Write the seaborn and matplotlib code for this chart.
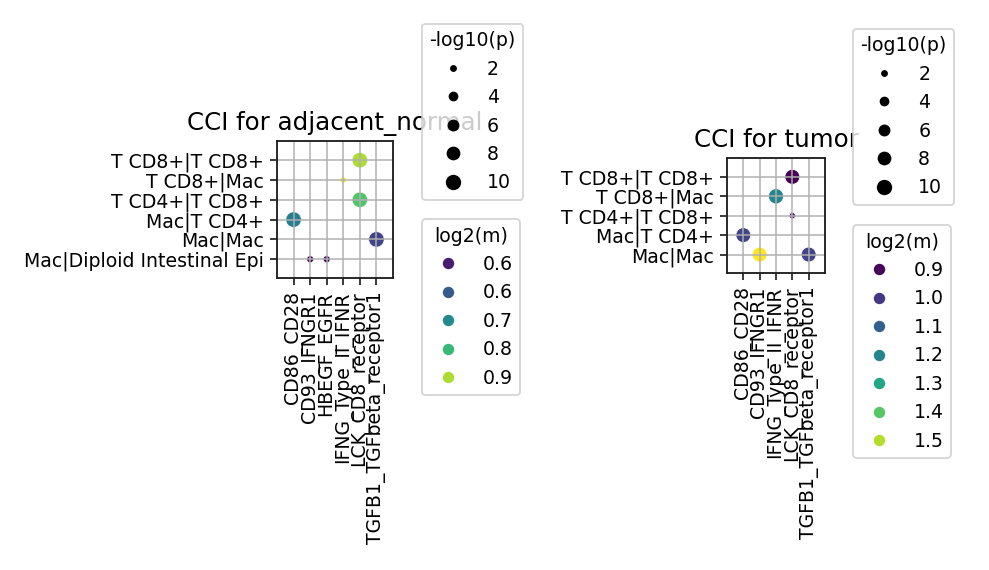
import numpy as np
import pandas as pd
import seaborn as sns
import matplotlib.pyplot as plt
from matplotlib.lines import Line2D

# --- dados: adjacent_normal ---
normal_pairs = ["T CD8+|T CD8+", "T CD8+|Mac", "T CD4+|T CD8+", "Mac|T CD4+",
                "Mac|Mac", "Mac|Diploid Intestinal Epi", "Mac|Diploid Intestinal Epi"]
normal_lr = ["LCK_CD8_receptor", "IFNG_Type_II_IFNR", "LCK_CD8_receptor", "CD86_CD28",
             "TGFB1_TGFbeta_receptor1", "CD93_IFNGR1", "HBEGF_EGFR"]
normal_log2m = [0.88, 0.93, 0.82, 0.70, 0.61, 0.54, 0.54]
normal_logp = [10, 1.6, 10, 10, 10, 2, 2]
normal_hue_range = (0.53, 0.93)
normal_hue_ticks = [0.56, 0.64, 0.72, 0.80, 0.88]
normal_hue_labels = ["0.6", "0.6", "0.7", "0.8", "0.9"]

# --- dados: tumor ---
tumor_pairs = ["T CD8+|T CD8+", "T CD8+|Mac", "T CD4+|T CD8+", "Mac|T CD4+",
               "Mac|Mac", "Mac|Mac"]
tumor_lr = ["LCK_CD8_receptor", "IFNG_Type_II_IFNR", "LCK_CD8_receptor", "CD86_CD28",
            "CD93_IFNGR1", "TGFB1_TGFbeta_receptor1"]
tumor_log2m = [0.89, 1.21, 0.94, 1.03, 1.58, 1.03]
tumor_logp = [9.6, 10, 1.8, 9.6, 9.6, 9.6]
tumor_hue_range = (0.89, 1.58)
tumor_hue_ticks = [0.9, 1.0, 1.1, 1.2, 1.3, 1.4, 1.5]
tumor_hue_labels = ["0.9", "1.0", "1.1", "1.2", "1.3", "1.4", "1.5"]

size_ticks = [2, 4, 6, 8, 10]
size_labels = ["2", "4", "6", "8", "10"]

W, H, DPI = 989, 570, 136
fig = plt.figure(figsize=(W / DPI, H / DPI), dpi=DPI)

SIZE_MAX = 66  # area (pt^2) for -log10(p) = 10


def painel(rect, pairs, lr, log2m, logp, hue_range, hue_ticks, hue_labels,
           title, leg_x, leg_y_top, leg_y_bottom):
    ax = fig.add_axes([rect[0] / W, 1 - rect[3] / H,
                       (rect[2] - rect[0]) / W, (rect[3] - rect[1]) / H])
    df = pd.DataFrame({"pair": pairs, "lr": lr, "log2m": log2m, "logp": logp})
    df["pair"] = pd.Categorical(df["pair"], categories=sorted(set(pairs)))
    df["lr"] = pd.Categorical(df["lr"], categories=sorted(set(lr)))
    sns.scatterplot(data=df, x="lr", y="pair", hue="log2m", size="logp",
                    palette="viridis", hue_norm=hue_range,
                    sizes=(0, SIZE_MAX), size_norm=(0, 10),
                    edgecolor="white", legend=False, ax=ax)
    nx = len(set(lr))
    ny = len(set(pairs))
    ax.set_xlim(-1.0, nx)
    ax.set_ylim(-0.95, ny - 1 + 0.97)
    ax.grid(True, color="#b0b0b0", linewidth=0.8)
    ax.tick_params(axis="x", labelrotation=90)
    for sp in ax.spines.values():
        sp.set_linewidth(1.0)
        sp.set_color("#222222")
    ax.set_xlabel("")
    ax.set_ylabel("")
    ax.set_title(title, fontsize=13)

    # legendas
    cmap = plt.get_cmap("viridis")
    norm = plt.Normalize(*hue_range)
    size_handles = [Line2D([], [], marker="o", ls="", color="black",
                           markeredgewidth=0,
                           markersize=np.sqrt(SIZE_MAX * v / 10), label=l)
                    for v, l in zip(size_ticks, size_labels)]
    hue_handles = [Line2D([], [], marker="o", ls="", color=cmap(norm(v)),
                          markeredgewidth=0, markersize=np.sqrt(SIZE_MAX * 0.55),
                          label=l)
                   for v, l in zip(hue_ticks, hue_labels)]
    leg1 = ax.legend(handles=size_handles, title="-log10(p)", loc="lower left",
                     bbox_to_anchor=(leg_x / W, 1 - leg_y_bottom / H),
                     bbox_transform=fig.transFigure, borderaxespad=0)
    ax.add_artist(leg1)
    ax.legend(handles=hue_handles, title="log2(m)", loc="upper left",
              bbox_to_anchor=(leg_x / W, 1 - leg_y_top / H),
              bbox_transform=fig.transFigure, borderaxespad=0)
    return ax


painel((277, 141, 393, 278), normal_pairs, normal_lr, normal_log2m, normal_logp,
       normal_hue_range, normal_hue_ticks, normal_hue_labels,
       "CCI for adjacent_normal", 422, 219, 200)
painel((727, 158, 825, 273), tumor_pairs, tumor_lr, tumor_log2m, tumor_logp,
       tumor_hue_range, tumor_hue_ticks, tumor_hue_labels,
       "CCI for tumor", 853, 225, 205)

fig.savefig("out.png", dpi=DPI)
